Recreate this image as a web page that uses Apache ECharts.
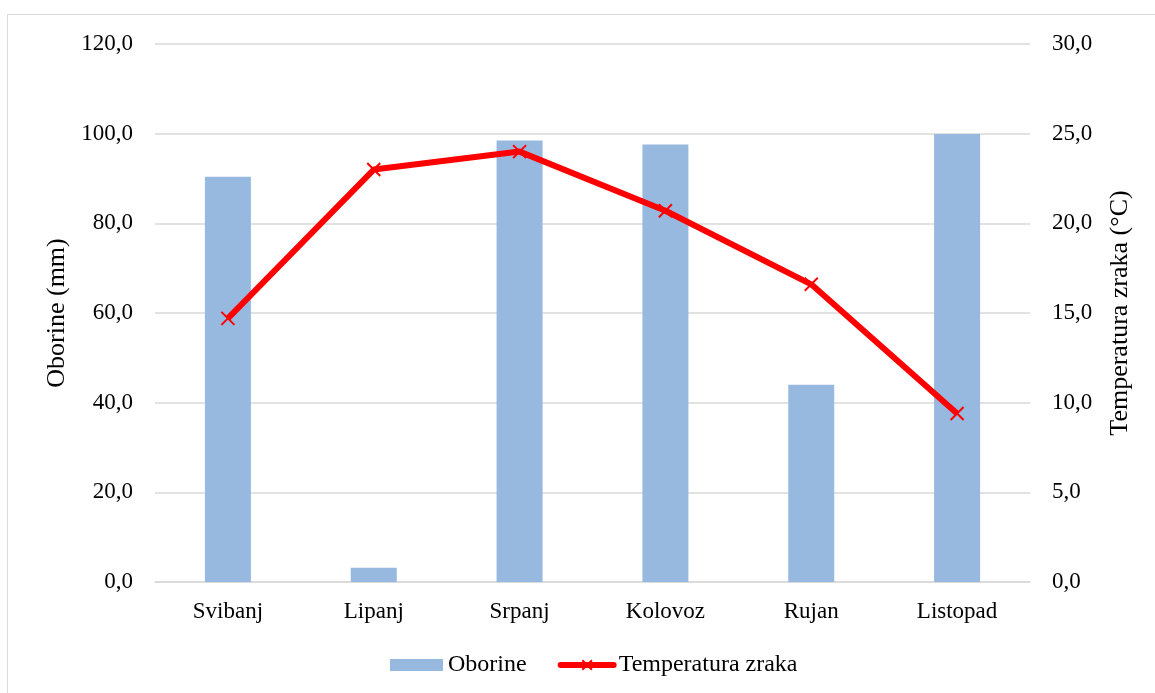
<!DOCTYPE html>
<html>
<head>
<meta charset="utf-8">
<script src="https://cdn.jsdelivr.net/npm/echarts@6/dist/echarts.min.js"></script>
<style>
  html, body { margin: 0; padding: 0; background: #fff; overflow: hidden; }
  #frame { position: absolute; left: 7px; top: 14px; width: 1200px; height: 720px; border: 1px solid #d9d9d9; }
  #chart { position: absolute; left: 0; top: 0; width: 1155px; height: 693px; }
</style>
</head>
<body>
<div id="frame"></div>
<div id="chart"></div>
<script>
var months = ["Svibanj", "Lipanj", "Srpanj", "Kolovoz", "Rujan", "Listopad"];
var oborine = [90.4, 3.2, 98.5, 97.6, 44.0, 99.9];
var temperatura = [14.7, 23.0, 24.0, 20.7, 16.6, 9.4];

function fmt(v) {
  return v.toFixed(1).replace(".", ",");
}

var font = "'Liberation Serif', 'Times New Roman', serif";
var crossPath = "path://M0,0L10,10M10,0L0,10";

var myChart = echarts.init(document.getElementById("chart"));
var option = {
  backgroundColor: "transparent",
  textStyle: { fontFamily: font, color: "#000" },
  grid: {
    left: 155,
    right: 125,
    top: 44,
    bottom: 111,
    containLabel: false,
    outerBoundsMode: "none",
  },
  legend: {
    left: 385,
    top: 648,
    itemWidth: 53,
    itemHeight: 12,
    itemGap: 31,
    textStyle: { fontFamily: font, fontSize: 24, color: "#000" },
    data: [
      { name: "Oborine", icon: "rect" },
      {
        name: "Temperatura zraka",
        lineStyle: { width: 6, cap: "round" },
      },
    ],
  },
  xAxis: {
    type: "category",
    data: months,
    axisLine: { lineStyle: { color: "#d9d9d9", width: 1.5 } },
    axisTick: { show: false },
    axisLabel: { fontFamily: font, fontSize: 23, color: "#000", margin: 18 },
  },
  yAxis: [
    {
      type: "value",
      min: 0,
      max: 120,
      interval: 20,
      name: "Oborine (mm)",
      nameLocation: "middle",
      nameGap: 83,
      nameTextStyle: { fontFamily: font, fontSize: 26, color: "#000" },
      axisLine: { show: false },
      axisTick: { show: false },
      axisLabel: { fontFamily: font, fontSize: 23, color: "#000", margin: 22, formatter: fmt },
      splitLine: { lineStyle: { color: "#d9d9d9", width: 1.5 } },
    },
    {
      type: "value",
      min: 0,
      max: 30,
      interval: 5,
      name: "Temperatura zraka (°C)",
      nameLocation: "middle",
      nameGap: 77,
      nameRotate: 90,
      nameTextStyle: { fontFamily: font, fontSize: 26, color: "#000" },
      axisLine: { show: false },
      axisTick: { show: false },
      axisLabel: { fontFamily: font, fontSize: 23, color: "#000", margin: 22, formatter: fmt },
      splitLine: { show: false },
    },
  ],
  series: [
    {
      name: "Oborine",
      type: "bar",
      data: oborine,
      barWidth: 46,
      itemStyle: { color: "#97b9e0" },
    },
    {
      name: "Temperatura zraka",
      type: "line",
      yAxisIndex: 1,
      data: temperatura,
      z: 5,
      symbol: crossPath,
      symbolSize: 13,
      lineStyle: { color: "#ff0000", width: 6 },
      itemStyle: { color: "#ff0000", borderColor: "#ff0000", borderWidth: 2 },
    },
  ],
};
myChart.setOption(option);
</script>
</body>
</html>
